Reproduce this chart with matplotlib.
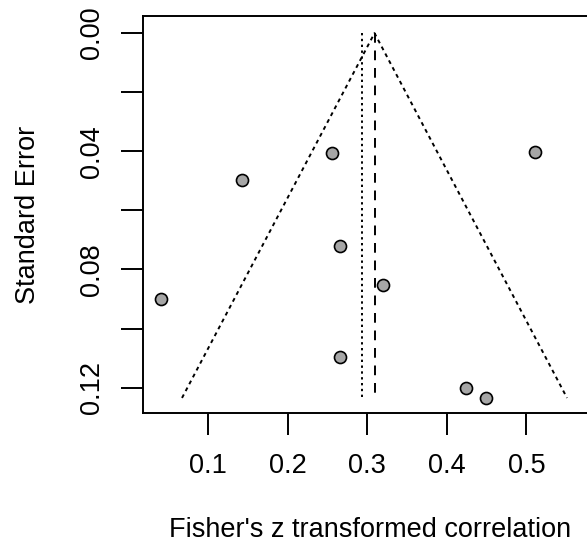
import numpy as np
import matplotlib
matplotlib.use('Agg')
import matplotlib.pyplot as plt

plt.rcParams['font.family'] = ['Liberation Sans', 'DejaVu Sans']

# effect sizes (Fisher's z) and their standard errors
zi = [0.255, 0.511, 0.142, 0.266, 0.320, 0.040, 0.266, 0.424, 0.449]
sei = [0.0406, 0.0401, 0.0496, 0.0722, 0.0854, 0.0900, 0.1098, 0.1200, 0.1235]
est = 0.309      # pooled estimate (dashed line)
est2 = 0.293     # second estimate (dotted line)
xticks = [0.1, 0.2, 0.3, 0.4, 0.5]
yticks = [0.00, 0.04, 0.08, 0.12]
ytick_minor = [0.02, 0.06, 0.10]

W, H = 587, 550
fig = plt.figure(figsize=(W / 100, H / 100), dpi=100, facecolor='white')
ax = fig.add_axes([143 / W, 1 - 413 / H, 455 / W, 397 / H])

fs = 19.5
lw = 1.4
semax = max(sei)

# funnel
z = 1.96
ax.plot([est - z * semax, est, est + z * semax], [semax, 0, semax],
        color='black', lw=lw, linestyle=(0, (2, 2)))
ax.plot([est, est], [0, semax], color='black', lw=lw, linestyle=(0, (5, 4)))
ax.plot([est2, est2], [0, semax], color='black', lw=lw, linestyle=(0, (1.2, 1.8)))

ax.scatter(zi, sei, s=75, facecolor='#a6a6a6', edgecolor='black', linewidth=1.2, zorder=3)

ax.set_xlim(0.0179, 0.59)
ax.set_ylim(0.1286, -0.0058)

ax.set_xticks(xticks)
ax.set_xticklabels([f'{v:.1f}' for v in xticks])
ax.set_yticks(yticks + ytick_minor)
ax.set_yticklabels([f'{v:.2f}' for v in yticks] + [''] * len(ytick_minor))
ax.tick_params(length=16, width=lw, labelsize=fs, pad=13, direction='out')
ax.tick_params(axis='y', labelrotation=90, pad=11)
for t in ax.get_yticklabels():
    t.set_va('center')

for s in ax.spines.values():
    s.set_linewidth(lw)

ax.set_xlabel("Fisher's z transformed correlation", fontsize=fs, labelpad=27)
ax.set_ylabel('Standard Error', fontsize=fs, labelpad=28)

fig.savefig('out.png', dpi=100, facecolor='white')
